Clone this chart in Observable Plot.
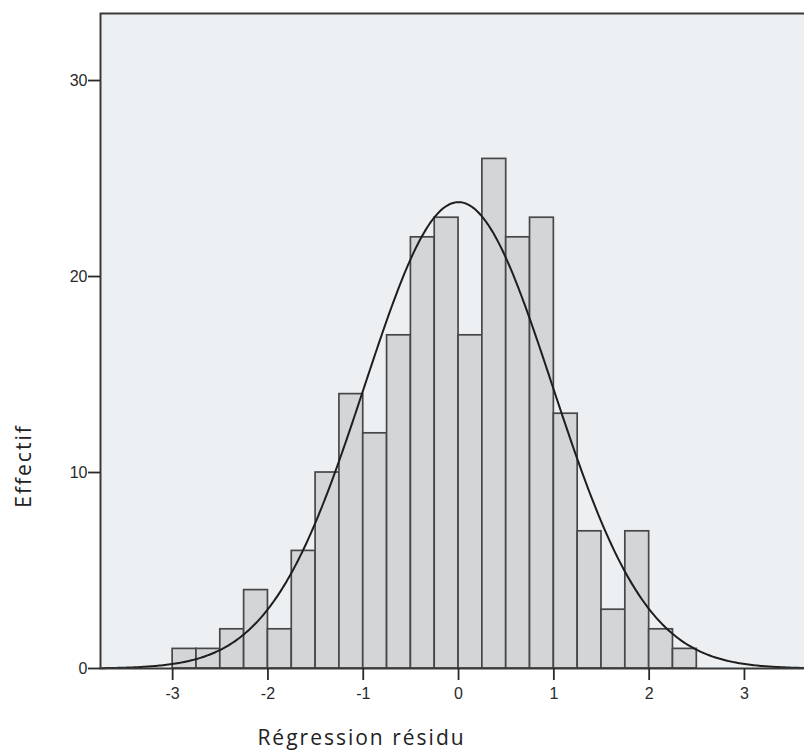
<!DOCTYPE html>
<html>
<head>
<meta charset="utf-8">
<script src="https://cdn.jsdelivr.net/npm/d3@7"></script>
<script src="https://cdn.jsdelivr.net/npm/@observablehq/plot@0.6"></script>
<style>
  html, body { margin: 0; padding: 0; background: #ffffff; overflow: hidden; }
  #chart svg { overflow: hidden; display: block; }
  #chart svg g[aria-label$="tick label"] text { font-size: 16px !important; }
</style>
</head>
<body>
<div id="chart"></div>
<script>
// Histogram bins of the regression residuals (bin width 0.25)
const binStart = [-3, -2.75, -2.5, -2.25, -2, -1.75, -1.5, -1.25, -1, -0.75, -0.5,
                  -0.25, 0, 0.25, 0.5, 0.75, 1, 1.25, 1.5, 1.75, 2, 2.25];
const binEnd   = [-2.75, -2.5, -2.25, -2, -1.75, -1.5, -1.25, -1, -0.75, -0.5, -0.25,
                  0, 0.25, 0.5, 0.75, 1, 1.25, 1.5, 1.75, 2, 2.25, 2.5];
const counts   = [1, 1, 2, 4, 2, 6, 10, 14, 12, 17, 22,
                  23, 17, 26, 22, 23, 13, 7, 3, 7, 2, 1];

// Fitted normal curve: mean, standard deviation, sample size, bin width
const fitMean = 0.0;
const fitSd = 0.985;
const fitN = 235;
const fitBinWidth = 0.25;

// Axis ticks and titles
const xTicks = [-3, -2, -1, 0, 1, 2, 3];
const yTicks = [0, 10, 20, 30];
const xTitleText = "Régression résidu";
const yTitleText = "Effectif";

const bins = binStart.map((x1, i) => ({x1, x2: binEnd[i], count: counts[i]}));
const xDomain = [-3.757, 3.735];

function fittedCount(x) {
  const z = (x - fitMean) / fitSd;
  return fitN * fitBinWidth / (fitSd * Math.sqrt(2 * Math.PI)) * Math.exp(-0.5 * z * z);
}
const fittedCurve = Array.from({length: 401}, (_, i) => {
  const x = xDomain[0] + (xDomain[1] - xDomain[0]) * i / 400;
  return {x, y: fittedCount(x)};
});

const histogramChart = Plot.plot({
  width: 804,
  height: 755,
  marginLeft: 100,
  marginRight: -10,
  marginTop: 13,
  marginBottom: 87,
  style: {fontFamily: "'Liberation Sans', Arial, sans-serif", fontSize: "16px", color: "#2a2a2a"},
  x: {domain: xDomain, ticks: xTicks},
  y: {domain: [0, 33.42], ticks: yTicks},
  marks: [
    Plot.frame({fill: "#edf0f2"}),
    Plot.rectY(bins, {x1: "x1", x2: "x2", y: "count", fill: "#d3d5d7", stroke: "#474747", strokeWidth: 1.7}),
    Plot.line(fittedCurve, {x: "x", y: "y", stroke: "#1e1e1e", strokeWidth: 2}),
    Plot.frame({stroke: "#3a3a3a", strokeWidth: 2}),
    Plot.axisX({ticks: xTicks, tickSize: 12, tickPadding: 7, label: null, fontSize: 16,
                strokeWidth: 1.8, tickFormat: d => String(d)}),
    Plot.axisY({ticks: yTicks, tickSize: 12, tickPadding: 1, label: null, fontSize: 16,
                strokeWidth: 1.8}),
    Plot.text([xTitleText], {frameAnchor: "bottom", dx: -96, dy: 76, fontSize: 21,
              fontFamily: "'Open Sans', sans-serif", fill: "#222", textAnchor: "middle"}),
    Plot.text([yTitleText], {frameAnchor: "left", dx: -76, dy: 125, rotate: -90, fontSize: 21,
              fontFamily: "'Open Sans', sans-serif", fill: "#222", textAnchor: "middle"})
  ]
});

// Spaced-out lettering of the axis titles
histogramChart.querySelectorAll("text").forEach(t => {
  if (t.textContent === xTitleText || t.textContent === yTitleText) t.style.letterSpacing = "2px";
});

document.getElementById("chart").appendChild(histogramChart);
</script>
</body>
</html>
